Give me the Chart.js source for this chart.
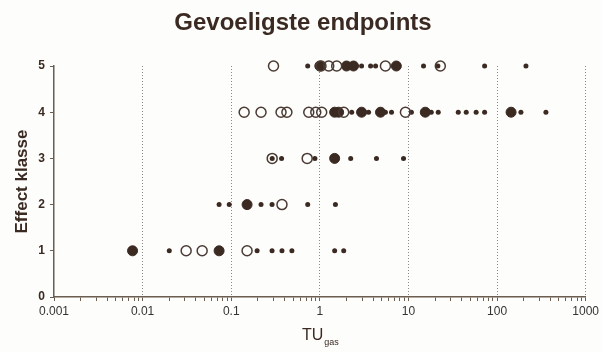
<!DOCTYPE html>
<html>
<head>
<meta charset="utf-8">
<script src="https://cdn.jsdelivr.net/npm/chart.js@4"></script>
<style>
html, body { margin: 0; padding: 0; background: #fdfdfb; }
#chart { display: block; }
</style>
</head>
<body>
<canvas id="chart" width="602" height="352"></canvas>
<script>
const titleText = "Gevoeligste endpoints";
const yTitle = "Effect klasse";
const xTickValues = [0.001, 0.01, 0.1, 1, 10, 100, 1000];
const classes = [1, 2, 3, 4, 5];

// TU values per effect class (index 0 = class 1 ... index 4 = class 5)
const openCircles = [
    [0.031, 0.047, 0.151],
    [0.374],
    [0.29, 0.72],
    [0.14, 0.217, 0.365, 0.425, 0.75, 0.90, 1.05, 1.86, 9.25],
    [0.30, 1.03, 1.26, 1.55, 5.5, 22.9]
];
const bigDots = [
    [0.0077, 0.073],
    [0.151],
    [1.47],
    [1.47, 1.63, 2.96, 4.84, 15.5, 144],
    [1.0, 2.0, 2.4, 7.3]
];
const smallDots = [
    [0.020, 0.196, 0.289, 0.374, 0.484, 1.47, 1.86],
    [0.073, 0.095, 0.217, 0.289, 0.73, 1.5],
    [0.29, 0.37, 0.88, 2.23, 4.36, 8.8],
    [2.29, 3.55, 5.5, 6.44, 10.8, 18.1, 21.7, 36.5, 44.9, 58.1, 72.4, 186, 356],
    [0.73, 2.96, 3.74, 4.26, 14.8, 21.5, 72.4, 212]
];

const ink = "#3b2a22";
const axisColor = "#6b5d4f";
const fontFamily = '"Liberation Sans", Arial, sans-serif';

const toPoints = (rows) => rows.flatMap((vals, i) => vals.map(v => ({ x: v, y: classes[i] })));

// minor ticks 1..9 per decade, labels only on decades
const allTicks = [];
xTickValues.forEach((d, i) => {
    allTicks.push(d);
    if (i < xTickValues.length - 1) {
        for (let k = 2; k <= 9; k++) allTicks.push(d * k);
    }
});

const textPlugin = {
    id: "texts",
    beforeDraw(chart) {
        const ctx = chart.ctx;
        ctx.save();
        ctx.fillStyle = "#fdfdfb";
        ctx.fillRect(0, 0, chart.width, chart.height);
        ctx.restore();
    },
    afterDraw(chart) {
        const { ctx, chartArea } = chart;
        ctx.save();
        ctx.fillStyle = ink;
        ctx.textAlign = "center";
        ctx.textBaseline = "middle";
        ctx.font = "bold 24px " + fontFamily;
        ctx.fillText(titleText, 303, 23);

        // TU with subscript
        const cx = (chartArea.left + chartArea.right) / 2;
        ctx.textAlign = "left";
        ctx.textBaseline = "alphabetic";
        ctx.font = "16px " + fontFamily;
        const w1 = ctx.measureText("TU").width;
        ctx.font = "9px " + fontFamily;
        const w2 = ctx.measureText("gas").width;
        const start = cx - (w1 + w2) / 2;
        ctx.font = "16px " + fontFamily;
        ctx.fillText("TU", start, 340);
        ctx.font = "9px " + fontFamily;
        ctx.fillText("gas", start + w1 + 1, 345);
        ctx.restore();
    }
};

new Chart(document.getElementById("chart"), {
    type: "scatter",
    plugins: [textPlugin],
    data: {
        datasets: [
            {
                label: "open",
                data: toPoints(openCircles),
                pointRadius: 5,
                borderWidth: 1.5,
                borderColor: "#4a3a33",
                backgroundColor: "rgba(0,0,0,0)",
                clip: false
            },
            {
                label: "groot",
                data: toPoints(bigDots),
                pointRadius: 5,
                borderWidth: 1,
                borderColor: ink,
                backgroundColor: ink,
                clip: false
            },
            {
                label: "klein",
                data: toPoints(smallDots),
                pointRadius: 2.5,
                borderWidth: 0,
                borderColor: ink,
                backgroundColor: ink,
                clip: false
            }
        ]
    },
    options: {
        responsive: false,
        devicePixelRatio: 1,
        animation: false,
        layout: { padding: { top: 66, right: 14, left: 0, bottom: 0 } },
        plugins: {
            legend: { display: false },
            tooltip: { enabled: false },
            title: { display: false }
        },
        scales: {
            x: {
                type: "logarithmic",
                min: 0.001,
                max: 1000,
                afterBuildTicks: (axis) => {
                    axis.ticks = allTicks.map(v => ({ value: v }));
                },
                afterFit: (s) => { s.height = 55; },
                ticks: {
                    autoSkip: false,
                    maxRotation: 0,
                    padding: 3,
                    color: "#333",
                    font: { family: fontFamily, size: 12 },
                    callback: (value) => xTickValues.includes(value) ? String(value) : ""
                },
                grid: {
                    color: (c) => (c.tick && xTickValues.includes(c.tick.value) && c.tick.value !== 0.001)
                        ? "#8a8a8a" : "rgba(0,0,0,0)",
                    lineWidth: 1,
                    tickColor: axisColor,
                    tickLength: 4,
                    tickBorderDash: []
                },
                border: { color: axisColor, width: 1.5, dash: [1, 2] }
            },
            y: {
                min: 0,
                max: 5,
                afterFit: (s) => { s.width = 54; },
                ticks: {
                    stepSize: 1,
                    padding: 5,
                    color: ink,
                    font: { family: fontFamily, size: 12, weight: "bold" }
                },
                grid: {
                    drawOnChartArea: false,
                    tickLength: 4,
                    tickColor: axisColor,
                    color: axisColor
                },
                border: { color: axisColor, width: 1.5 },
                title: {
                    display: true,
                    text: yTitle,
                    color: ink,
                    font: { family: fontFamily, size: 17, weight: "bold" },
                    padding: { top: 12, bottom: 0 }
                }
            }
        }
    }
});
</script>
</body>
</html>
